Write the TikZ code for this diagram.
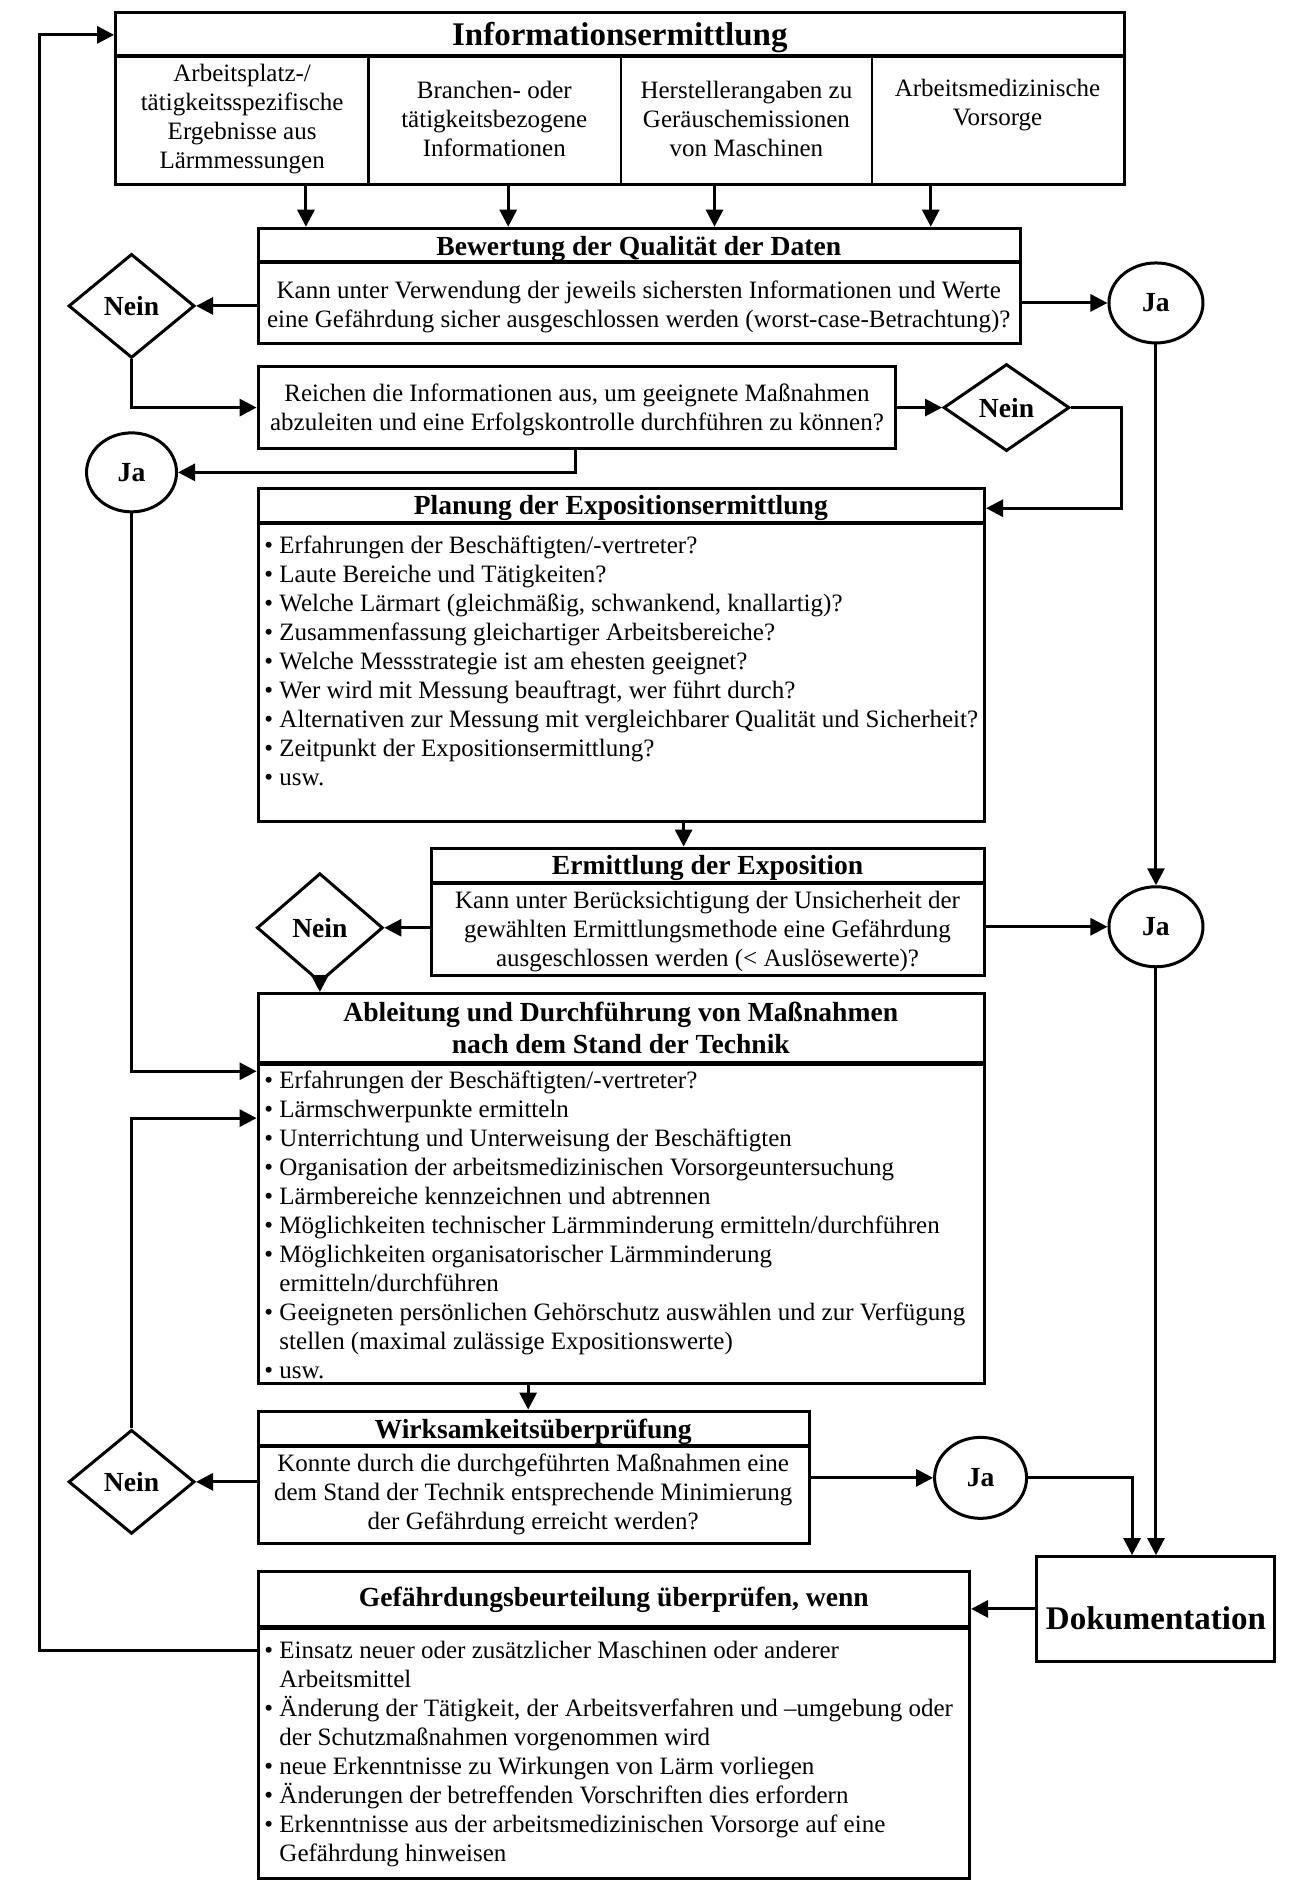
\documentclass[tikz,border=0pt]{standalone}
\usepackage{fontspec}
\setmainfont{Liberation Serif}
\usetikzlibrary{shapes.geometric,fit,arrows.meta}
\newcommand{\bodyfont}{\fontsize{12.5}{14.5}\selectfont}
\newcommand{\titlefont}{\bfseries\fontsize{13.8}{16}\selectfont}
\newcommand{\bigtitlefont}{\bfseries\fontsize{16.5}{19}\selectfont}
\newcommand{\bitem}[1]{\makebox[7.5pt][l]{•}#1\par}
\newcommand{\bind}{\newline\hspace*{7.5pt}}
\begin{document}
\begin{tikzpicture}[x=0.49825pt,y=-0.49825pt,
 box/.style={draw, line width=1.5pt, inner sep=0pt, rectangle},
 sep/.style={line width=2.2pt},
 arr/.style={line width=1.5pt, -{Triangle[length=8.5pt,width=8.5pt]}},
 ln/.style={line width=1.3pt},
 body/.style={font=\bodyfont, align=center, inner sep=0pt},
 ttl/.style={font=\titlefont, inner sep=0pt, align=center},
 lst/.style={font=\bodyfont, text width=390pt, align=flush left, inner sep=0pt, anchor=north west},
 nein/.style={draw, diamond, line width=1.5pt, minimum width=63pt, minimum height=52pt, inner sep=0pt, font=\titlefont},
 ja/.style={draw, ellipse, line width=1.5pt, minimum width=47pt, minimum height=40pt, inner sep=0pt, font=\titlefont},
]
\useasboundingbox[fill=white] (0,0) rectangle (1313.6,1899.6);

% Informationsermittlung
\node[box, fit={(116,13)(1128,185)}] (info) {};
\draw[sep] (116,56) -- (1128,56);
\draw[ln] (370,56) -- (370,185);
\draw[ln] (623,56) -- (623,185);
\draw[ln] (875,56) -- (875,185);
\node[font=\bigtitlefont, inner sep=0pt] (ititle) at (622,38) {Informationsermittlung};
\node[body] (c1) at (243,119) {Arbeitsplatz-/\\tätigkeitsspezifische\\Ergebnisse aus\\Lärmmessungen};
\node[body] (c2) at (496,119) {Branchen- oder\\tätigkeitsbezogene\\Informationen};
\node[body] (c3) at (749,119) {Herstellerangaben zu\\Geräuschemissionen\\von Maschinen};
\node[body] (c4) at (1001,105) {Arbeitsmedizinische\\Vorsorge};

% Bewertung
\node[box, fit={(259,229)(1024,345)}] (bew) {};
\draw[sep] (259,263) -- (1024,263);
\node[ttl] (btitle) at (641,250) {Bewertung der Qualität der Daten};
\node[body] (btext) at (641,308) {Kann unter Verwendung der jeweils sichersten Informationen und Werte\\eine Gefährdung sicher ausgeschlossen werden (worst-case-Betrachtung)?};
\node[nein] (nein1) at (132,307) {Nein};
\node[ja] (ja1) at (1160,304) {Ja};

% Reichen
\node[box, fit={(259,368)(899,450)}] (rei) {};
\node[body] (rtext) at (579,411) {Reichen die Informationen aus, um geeignete Maßnahmen\\abzuleiten und eine Erfolgskontrolle durchführen zu können?};
\node[nein, minimum height=43.5pt] (nein2) at (1010,409) {Nein};
\node[ja, minimum width=45pt, minimum height=39.5pt] (ja2) at (132,474) {Ja};

% Planung
\node[box, fit={(259,490)(988,824)}] (plan) {};
\draw[sep] (259,525) -- (988,525);
\node[ttl] (ptitle) at (623,510) {Planung der Expositionsermittlung};
\node[lst] (plist) at (265,537) {%
\bitem{Erfahrungen der Beschäftigten/-vertreter?}
\bitem{Laute Bereiche und Tätigkeiten?}
\bitem{Welche Lärmart (gleichmäßig, schwankend, knallartig)?}
\bitem{Zusammenfassung gleichartiger Arbeitsbereiche?}
\bitem{Welche Messstrategie ist am ehesten geeignet?}
\bitem{Wer wird mit Messung beauftragt, wer führt durch?}
\bitem{Alternativen zur Messung mit vergleichbarer Qualität und Sicherheit?}
\bitem{Zeitpunkt der Expositionsermittlung?}
\bitem{usw.}};

% Ermittlung
\node[box, fit={(433,851)(988,979)}] (erm) {};
\draw[sep] (433,886) -- (988,886);
\node[ttl] (etitle) at (710,871) {Ermittlung der Exposition};
\node[body] (etext) at (710,935) {Kann unter Berücksichtigung der Unsicherheit der\\gewählten Ermittlungsmethode eine Gefährdung\\ausgeschlossen werden (< Auslösewerte)?};
\node[nein, minimum height=54.5pt] (nein3) at (321,931) {Nein};
\node[ja] (ja3) at (1160,930) {Ja};

% Ableitung
\node[box, fit={(259,997)(988,1388)}] (abl) {};
\draw[sep] (259,1067) -- (988,1067);
\node[ttl] (atitle) at (623,1031) {Ableitung und Durchführung von Maßnahmen\\nach dem Stand der Technik};
\node[lst] (alist) at (265,1074) {%
\bitem{Erfahrungen der Beschäftigten/-vertreter?}
\bitem{Lärmschwerpunkte ermitteln}
\bitem{Unterrichtung und Unterweisung der Beschäftigten}
\bitem{Organisation der arbeitsmedizinischen Vorsorgeuntersuchung}
\bitem{Lärmbereiche kennzeichnen und abtrennen}
\bitem{Möglichkeiten technischer Lärmminderung ermitteln/durchführen}
\bitem{Möglichkeiten organisatorischer Lärmminderung\bind ermitteln/durchführen}
\bitem{Geeigneten persönlichen Gehörschutz auswählen und zur Verfügung\bind stellen (maximal zulässige Expositionswerte)}
\bitem{usw.}};

% Wirksamkeit
\node[box, fit={(259,1416)(812,1549)}] (wirk) {};
\draw[sep] (259,1451) -- (812,1451);
\node[ttl] (wtitle) at (535,1437) {Wirksamkeitsüberprüfung};
\node[body] (wtext) at (535,1500) {Konnte durch die durchgeführten Maßnahmen eine\\dem Stand der Technik entsprechende Minimierung\\der Gefährdung erreicht werden?};
\node[nein] (nein4) at (132,1487) {Nein};
\node[ja, minimum width=46pt, minimum height=40.5pt] (ja4) at (984,1483) {Ja};

% Dokumentation
\node[box, fit={(1040,1562)(1279,1667)}] (doku) {};
\node[font=\bigtitlefont, inner sep=0pt] (dtext) at (1160,1624) {Dokumentation};

% Gefaehrdungsbeurteilung
\node[box, fit={(259,1577)(973,1885)}] (gef) {};
\draw[sep] (259,1633) -- (973,1633);
\node[ttl] (gtitle) at (616,1605) {Gefährdungsbeurteilung überprüfen, wenn};
\node[lst] (glist) at (265,1646) {%
\bitem{Einsatz neuer oder zusätzlicher Maschinen oder anderer\bind Arbeitsmittel}
\bitem{Änderung der Tätigkeit, der Arbeitsverfahren und –umgebung oder\bind der Schutzmaßnahmen vorgenommen wird}
\bitem{neue Erkenntnisse zu Wirkungen von Lärm vorliegen}
\bitem{Änderungen der betreffenden Vorschriften dies erfordern}
\bitem{Erkenntnisse aus der arbeitsmedizinischen Vorsorge auf eine\bind Gefährdung hinweisen}};

% helper coordinates
\coordinate (a1) at (307,0);
\coordinate (a2) at (510,0);
\coordinate (a3) at (717,0);
\coordinate (a4) at (934,0);
\coordinate (rx) at (1125,0);
\coordinate (rb) at (578,0);
\coordinate (yA) at (0,1075);
\coordinate (pb) at (686,0);
\coordinate (ab) at (530,0);
\coordinate (yB) at (0,1122);
\coordinate (dx) at (1136,0);
\coordinate (yC) at (0,1656);
\coordinate (lx) at (40,0);
\coordinate (yI) at (0,35);

% connectors
\foreach \c in {a1,a2,a3,a4} \draw[arr] (info.south -| \c) -- (bew.north -| \c);
\draw[arr] (bew.west |- nein1) -- (nein1.east);
\draw[arr] (bew.east |- ja1) -- (ja1.west);
\draw[arr] (nein1.south) |- (rei.west);
\draw[arr] (rei.east) -- (nein2.west);
\draw[arr] (nein2.east) -- (rx |- nein2.east) |- (plan.east |- ptitle);
\draw[arr] (rei.south -| rb) |- (ja2.east);
\draw[arr] (ja2.south) |- (abl.west |- yA);
\draw[arr] (plan.south -| pb) -- (erm.north -| pb);
\draw[arr] (erm.west |- nein3) -- (nein3.east);
\draw[arr] (nein3.south) -- (abl.north -| nein3.south);
\draw[arr] (erm.east |- ja3) -- (ja3.west);
\draw[arr] (ja1.south) -- (ja3.north);
\draw[arr] (ja3.south) -- (doku.north -| ja3.south);
\draw[arr] (abl.south -| ab) -- (wirk.north -| ab);
\draw[arr] (wirk.west |- nein4) -- (nein4.east);
\draw[arr] (nein4.north) |- (abl.west |- yB);
\draw[arr] (wirk.east |- ja4) -- (ja4.west);
\draw[arr] (ja4.east) -| (doku.north -| dx);
\draw[arr] (doku.west) -- (gef.east |- doku.west);
\draw[arr] (gef.west |- yC) -- (lx |- yC) |- (info.west |- yI);
\end{tikzpicture}
\end{document}
